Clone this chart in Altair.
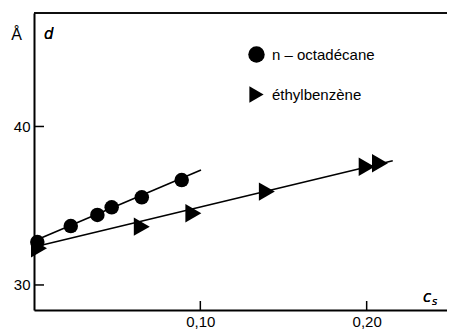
import altair as alt
import pandas as pd

# ---- data ----
series_names = ["n – octadécane", "éthylbenzène"]
octa_cs = [0.002, 0.0221, 0.0381, 0.0467, 0.0648, 0.0888]
octa_d = [32.71, 33.72, 34.42, 34.90, 35.53, 36.62]
ethyl_cs = [0.003, 0.0648, 0.0958, 0.140, 0.200, 0.208]
ethyl_d = [32.32, 33.68, 34.52, 35.89, 37.46, 37.68]
octa_fit_cs = [0.0, 0.1004]
octa_fit_d = [32.78, 37.26]
ethyl_fit_cs = [0.0, 0.2157]
ethyl_fit_d = [32.40, 37.84]
x_tick_values = [0.10, 0.20]
y_tick_values = [30, 40]

W, H = 413, 297
FONT = "Liberation Sans"
IFONT = "DejaVu Sans"

octa = pd.DataFrame({"cs": octa_cs, "d": octa_d, "série": [series_names[0]] * len(octa_cs)})
ethyl = pd.DataFrame({"cs": ethyl_cs, "d": ethyl_d, "série": [series_names[1]] * len(ethyl_cs)})
fits = pd.DataFrame(
    {"cs": octa_fit_cs + ethyl_fit_cs,
     "d": octa_fit_d + ethyl_fit_d,
     "série": [series_names[0]] * 2 + [series_names[1]] * 2}
)
xt = pd.DataFrame({"v": x_tick_values})
yt = pd.DataFrame({"v": y_tick_values})

xscale = alt.Scale(domain=[0, 0.2483], nice=False, zero=False)
yscale = alt.Scale(domain=[28.42, 47.16], nice=False, zero=False)
shape_scale = alt.Scale(domain=series_names, range=["circle", "triangle-right"])
legend = alt.Legend(title=None, orient="none", legendX=214, legendY=33,
                    padding=0, symbolSize=270, symbolFillColor="black",
                    symbolStrokeColor="black", symbolStrokeWidth=0, symbolOpacity=1,
                    labelFontSize=15, labelFont=FONT, labelColor="black",
                    rowPadding=23, labelOffset=7)

x_axis = alt.Axis(values=x_tick_values, ticks=False, grid=False, domainColor="black",
                  domainWidth=2, labelFontSize=15, labelFont=FONT, labelColor="black",
                  labelPadding=4, title=None,
                  labelExpr="replace(format(datum.value, '.2f'), '.', ',')")
y_axis = alt.Axis(values=y_tick_values, ticks=False, grid=False, domainColor="black",
                  domainWidth=2, labelFontSize=15, labelFont=FONT, labelColor="black",
                  labelPadding=4, title="Å", titleAngle=0, titleX=-18, titleY=26,
                  titleAlign="center", titleBaseline="alphabetic", titleFontSize=16,
                  titleFont=FONT, titleFontWeight="normal", titleColor="black")

lines = alt.Chart(fits).mark_line(color="black", strokeWidth=1.6).encode(
    x=alt.X("cs:Q", scale=xscale, axis=x_axis),
    y=alt.Y("d:Q", scale=yscale, axis=y_axis),
    detail="série:N",
)

circles = alt.Chart(octa).mark_point(filled=True, opacity=1, color="black", size=210).encode(
    x=alt.X("cs:Q", scale=xscale),
    y=alt.Y("d:Q", scale=yscale),
    shape=alt.Shape("série:N", scale=shape_scale, legend=legend),
)
triangles = alt.Chart(ethyl).mark_point(filled=True, opacity=1, color="black", size=340).encode(
    x=alt.X("cs:Q", scale=xscale),
    y=alt.Y("d:Q", scale=yscale),
    shape=alt.Shape("série:N", scale=shape_scale, legend=legend),
)

xticks = alt.Chart(xt).mark_rule(color="black", strokeWidth=1.5).encode(
    x=alt.X("v:Q", scale=xscale), y=alt.value(H), y2=alt.value(H - 9)
)
yticks = alt.Chart(yt).mark_rule(color="black", strokeWidth=1.5).encode(
    y=alt.Y("v:Q", scale=yscale), x=alt.value(0), x2=alt.value(10)
)
top_border = alt.Chart(xt).mark_rule(color="black", strokeWidth=1.5).encode(
    x=alt.value(0), x2=alt.value(W), y=alt.value(0)
)

d_label = alt.Chart(xt).mark_text(text="d", font=IFONT, fontSize=15, fontStyle="italic",
                                  fontWeight="normal", align="left", baseline="alphabetic",
                                  color="black").encode(x=alt.value(10), y=alt.value(26))
c_label = alt.Chart(xt).mark_text(text="c", font=IFONT, fontSize=15, fontStyle="italic",
                                  fontWeight="normal", align="left", baseline="alphabetic",
                                  color="black").encode(x=alt.value(389), y=alt.value(289))
s_label = alt.Chart(xt).mark_text(text="s", font=IFONT, fontSize=10, fontStyle="italic",
                                  fontWeight="normal", align="left", baseline="alphabetic",
                                  color="black").encode(x=alt.value(398), y=alt.value(292))

chart = alt.layer(
    lines, circles, triangles, xticks, yticks, top_border, d_label, c_label, s_label
).properties(
    width=W, height=H,
    padding={"left": 26, "top": 5, "right": 0, "bottom": 20},
    autosize=alt.AutoSizeParams(type="none"),
).configure_view(stroke=None).configure(background="white")

chart.save("out.html", embed_options={"renderer": "svg", "actions": False})
